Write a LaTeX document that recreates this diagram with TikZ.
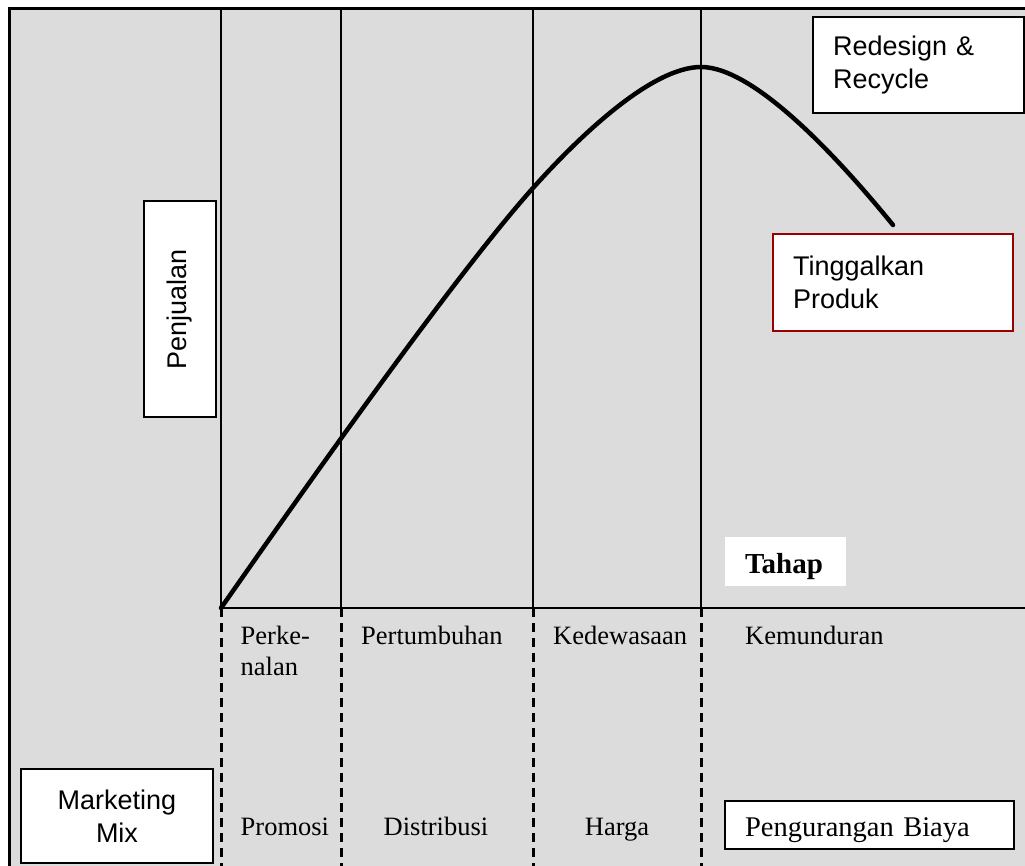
\documentclass[tikz,border=0pt]{standalone}
\usepackage{fontspec}
\setmainfont{Liberation Serif}
\setsansfont{Liberation Sans}
\usetikzlibrary{positioning}
\definecolor{panelgray}{RGB}{220,220,220}
\definecolor{dropred}{RGB}{153,0,0}

\begin{document}
\begin{tikzpicture}[
  x=1pt, y=-1pt,
  phase/.style={inner sep=0pt, font=\fontsize{26.5}{31}\selectfont},
  box/.style={draw, fill=white, line width=1.5pt, inner ysep=0pt, inner xsep=20pt, align=left, font=\sffamily\fontsize{27}{33}\selectfont},
  divider/.style={line width=1.5pt},
  stageline/.style={line width=3pt, dash pattern=on 9pt off 6pt},
]
\useasboundingbox (0,0) rectangle (1025,865);
\clip (0,0) rectangle (1025,865);
\fill[white] (0,0) rectangle (1025,865);
% grey panel, only top and left edges show
\fill[panelgray] (9,8) rectangle (1030,870);
\draw[line width=3pt] (9,870) -- (9,8) -- (1030,8);
% stage boundaries: solid above the axis, dashed below
\foreach \n/\x in {a/221,b/341,c/533,d/701} {
  \coordinate (top\n) at (\x,8);
  \coordinate (ax\n) at (\x,608);
  \coordinate (bot\n) at (\x,866);
  \draw[divider] (top\n) -- (ax\n);
  \draw[stageline] (ax\n) -- (bot\n);
}
\coordinate (axend) at (1026,608);
\draw[divider] (axa) -- (axend);
% sales curve
\coordinate (peak) at (701,67);
\coordinate (tail) at (893,225);
\draw[line width=4.5pt, line cap=round] (axa)
  .. controls (300,495) and (455,275) .. (533,188)
  .. controls (575,141) and (650,67) .. (peak)
  .. controls (755,67) and (840,160) .. (tail);
% boxes
\node[box, text width=171pt, minimum height=96pt] (redesign) at (918.5,65) {Redesign \&\\Recycle};
\node[box, draw=dropred, text width=200pt, minimum height=97pt] (drop) at (893,282.5) {Tinggalkan\\Produk};
\node[box, rotate=90, align=center, inner xsep=0pt, minimum width=216pt, minimum height=72pt] (sales) at (180,309) {Penjualan};
\node[box, align=center, text width=152pt, minimum height=94pt] (mix) at (117,816) {Marketing\\Mix};
\node[box, font=\rmfamily\fontsize{28.5}{31}\selectfont, text width=249pt, minimum height=48pt, text height=22pt, text depth=0pt] (cost) at (869.5,825) {Pengurangan Biaya};
\node[fill=white, inner ysep=0pt, inner xsep=20pt, text width=81pt, minimum height=49pt, text height=24pt, text depth=0pt, align=left, font=\bfseries\fontsize{29}{31}\selectfont] (stagehead) at (785.5,561.5) {Tahap};
% stage names
\node[phase, anchor=north west, align=left] (intro) at (240.5,626) {Perke-\\nalan};
\node[phase, anchor=base west] (growth) at (361,644) {Pertumbuhan};
\node[phase, anchor=base west] (mature) at (553,644) {Kedewasaan};
\node[phase, anchor=base west] (decline) at (745,644) {Kemunduran};
% marketing mix per stage
\node[phase, anchor=base west] (promo) at (240.5,835) {Promosi};
\node[phase, anchor=base] (dist) at (436,835) {Distribusi};
\node[phase, anchor=base] (price) at (617,835) {Harga};
\end{tikzpicture}
\end{document}
